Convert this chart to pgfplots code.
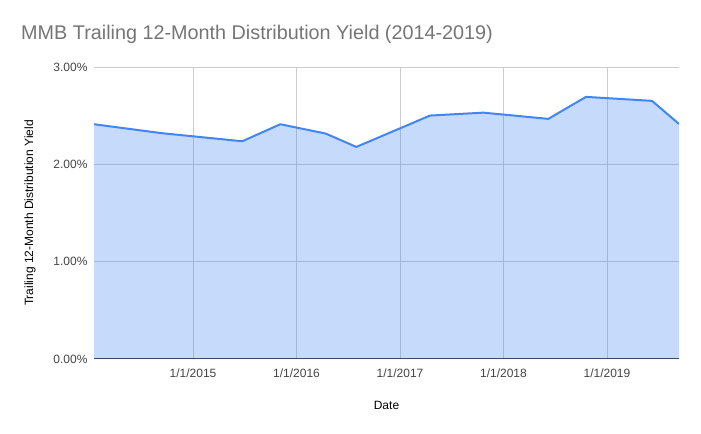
\documentclass[border=0pt]{standalone}
\usepackage{pgfplots}
\pgfplotsset{compat=1.18}
\usepackage{pgfplotstable}
\usepackage{fontspec}
\setmainfont{Liberation Sans}
\definecolor{gblue}{HTML}{4285F4}
\definecolor{gridc}{HTML}{CCCCCC}
\definecolor{tickc}{HTML}{444444}
\definecolor{titlec}{HTML}{757575}
\definecolor{basec}{HTML}{333333}
\pgfplotstableread{
x y
2014.043 2.412
2014.698 2.320
2015.476 2.237
2015.843 2.412
2016.282 2.316
2016.578 2.179
2017.290 2.501
2017.805 2.531
2018.433 2.467
2018.797 2.693
2019.435 2.652
2019.696 2.415
}\datatable
\begin{document}
\begin{tikzpicture}
\path[use as bounding box] (0,0) rectangle (701bp,434bp);
\begin{axis}[
  at={(94bp,75bp)}, anchor=south west,
  scale only axis, width=585bp, height=292bp,
  xmin=2014.043, xmax=2019.696, ymin=0, ymax=3,
  axis line style={draw=none},
  xtick={2015,2016,2017,2018,2019},
  xticklabels={1/1/2015,1/1/2016,1/1/2017,1/1/2018,1/1/2019},
  ytick={1,2,3}, yticklabels={1.00\%,2.00\%,3.00\%},
  extra y ticks={0}, extra y tick labels={0.00\%},
  extra y tick style={grid style={basec, line width=1bp}},
  major tick length=0,
  grid=major, grid style={gridc, line width=0.8bp},
  tick label style={font=\fontsize{12bp}{14bp}\selectfont, text=tickc},
  xticklabel style={yshift=-6bp},
  yticklabel style={xshift=-3bp},
  /pgf/number format/assume math mode=true,
  xlabel={Date}, ylabel={Trailing 12-Month Distribution Yield},
  label style={font=\fontsize{12bp}{14bp}\selectfont, text=black},
  xlabel style={at={(axis description cs:0.5,0)}, anchor=center, yshift=-46bp},
  ylabel style={at={(axis description cs:0,0.5)}, anchor=center, rotate=0, yshift=64bp},
]
\addplot[draw=none, fill=gblue, fill opacity=0.3] table {\datatable} \closedcycle;
\addplot[gblue, line width=2bp, line join=round] table {\datatable};
\end{axis}
\node[anchor=base west, inner sep=0pt, font=\fontsize{19.8bp}{23bp}\selectfont, text=titlec] at (21bp,394bp) {MMB Trailing 12-Month Distribution Yield (2014-2019)};
\end{tikzpicture}
\end{document}
